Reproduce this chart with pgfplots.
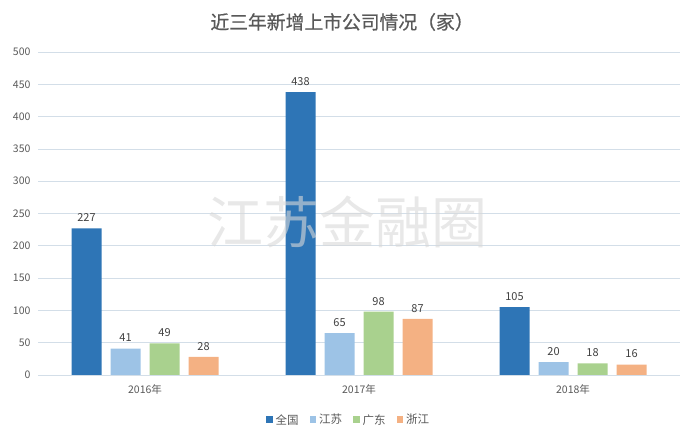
\documentclass[border=0pt]{standalone}
\usepackage{pgfplots}
\pgfplotsset{compat=1.18}
\usepackage{fontspec}
\setmainfont{Noto Sans CJK SC}
\newfontfamily\titlefont{Noto Sans CJK SC}[FakeBold=0.6]
\definecolor{cA}{HTML}{2E75B6}
\definecolor{cB}{HTML}{9DC3E6}
\definecolor{cC}{HTML}{A9D18E}
\definecolor{cD}{HTML}{F4B183}
\definecolor{gridc}{HTML}{D3DEE8}
\definecolor{txt}{HTML}{595959}
\definecolor{lab}{HTML}{404040}
\definecolor{wm}{HTML}{D8D8D8}
\begin{document}
\begin{tikzpicture}[x=1pt,y=1pt]
\useasboundingbox (0,0) rectangle (694,439);
\begin{axis}[
  at={(38pt,64pt)}, anchor=south west,
  scale only axis, width=642pt, height=323pt,
  xmin=-0.5, xmax=2.5, ymin=0, ymax=500,
  ytick={0,50,...,500}, xtick={0,1,2},
  xticklabels={2016年,2017年,2018年},
  ymajorgrids, grid style={draw=gridc, line width=0.7pt},
  axis x line*=bottom, axis y line*=left,
  y axis line style={draw=none},
  x axis line style={draw=gridc, line width=0.8pt},
  major tick length=0pt,
  /pgf/number format/assume math mode=true,
  tick label style={font=\fontsize{10.5}{12}\selectfont, text=txt},
  yticklabel style={xshift=-4pt},
  xticklabel style={yshift=-6pt},
  ybar=0pt, bar width=30pt,
  nodes near coords,
  nodes near coords style={font=\fontsize{11}{13}\selectfont, text=lab, yshift=3pt},
  legend style={at={(0.484,-0.139)}, anchor=center, draw=none, legend columns=4,
    font=\fontsize{11.5}{14}\selectfont, text=txt,
    /tikz/every odd column/.append style={column sep=1pt},
    /tikz/every even column/.append style={column sep=9pt}},
  legend image code/.code={\fill[#1] (0pt,-3pt) rectangle (6.5pt,3.5pt);},
]
\addplot[fill=cA, draw=none, bar shift=-58.5pt] coordinates {(0,227) (1,438) (2,105)};
\addplot[fill=cB, draw=none, bar shift=-19.5pt] coordinates {(0,41) (1,65) (2,20)};
\addplot[fill=cC, draw=none, bar shift=19.5pt] coordinates {(0,49) (1,98) (2,18)};
\addplot[fill=cD, draw=none, bar shift=58.5pt] coordinates {(0,28) (1,87) (2,16)};
\legend{全国,江苏,广东,浙江}
\end{axis}
\node[text=wm, opacity=0.6, font=\fontsize{56}{60}\selectfont] at (347,217) {江苏金融圈};
\node[text=txt, font=\titlefont\fontsize{18.8}{22}\selectfont] at (342,417) {近三年新增上市公司情况（家）};
\end{tikzpicture}
\end{document}
